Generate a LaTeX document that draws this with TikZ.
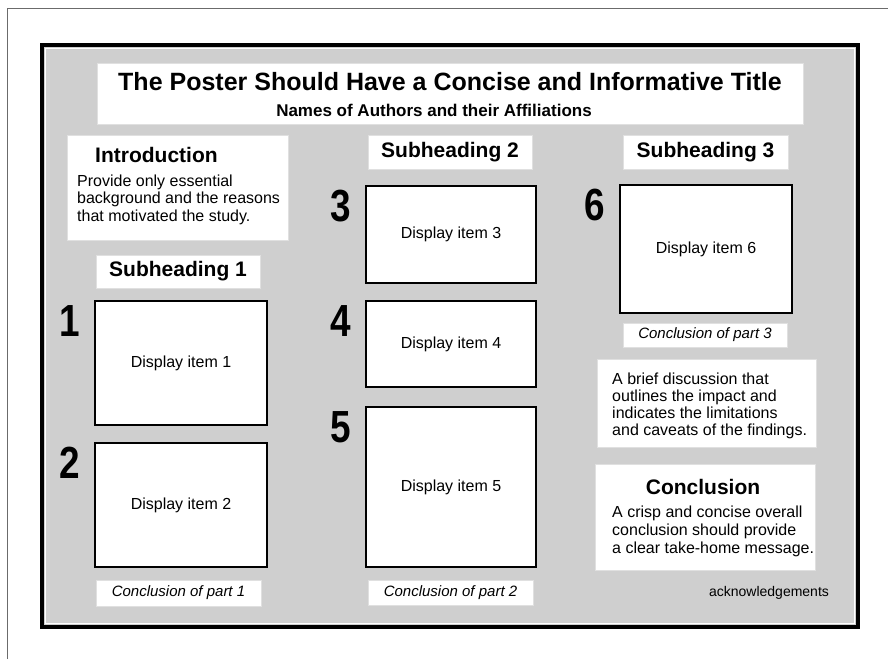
\documentclass[tikz,border=0pt]{standalone}
\usepackage{fontspec}
\usepackage{graphicx}
\setmainfont{Liberation Sans}
\usetikzlibrary{positioning}

\definecolor{posterg}{rgb}{0.81,0.81,0.81}
\definecolor{sheetg}{rgb}{0.42,0.42,0.42}

\tikzset{
  panel/.style={fill=white, draw=white!88!black, line width=0.6pt, inner sep=0pt},
  itembox/.style={fill=white, draw=black, line width=2pt, inner sep=0pt, font=\fontsize{16}{18}\selectfont},
  headtxt/.style={inner sep=0pt, font=\fontsize{21}{24}\selectfont\bfseries},
  bodytxt/.style={inner sep=0pt, anchor=west, text height=11.5pt, text depth=3.4pt, font=\fontsize{16}{18}\selectfont},
  concltxt/.style={font=\fontsize{15}{17}\selectfont\itshape},
  itemnum/.style={inner sep=0pt, font=\fontsize{45}{45}\selectfont\bfseries}
}

\begin{document}
\begin{tikzpicture}[x=1pt,y=-1pt]
\useasboundingbox (0,0) rectangle (888,659);

% sheet and poster
\draw[sheetg, line width=1pt] (7,659) -- (7,8) -- (888,8);
\draw[line width=3.5pt, fill=posterg] (42,45) rectangle (858,627);
\draw[white, line width=1.2pt] (45.5,48.5) rectangle (854.5,623.5);

% title
\node[panel, minimum width=706pt, minimum height=61pt] (titlebox) at (450,93.5) {};
\node[inner sep=0pt, font=\fontsize{25}{28}\selectfont\bfseries] (title) at (450,82) {The Poster Should Have a Concise and Informative Title};
\node[inner sep=0pt, font=\fontsize{17}{20}\selectfont\bfseries] (authors) at (434,110) {Names of Authors and their Affiliations};

% left column
\node[panel, minimum width=221pt, minimum height=105pt] (intro) at (177.5,187.5) {};
\node[headtxt, anchor=west] (introhead) at (95,155) {Introduction};
\foreach \t [count=\i] in {Provide only essential,background and the reasons,that motivated the study.}
  \node[bodytxt] (intro\i) at (77,164.5+17.5*\i) {\t};

\node[panel, headtxt, minimum width=164pt, minimum height=33pt] (sub1) at (178,271.5) {Subheading 1};
\node[itembox, minimum width=172pt, minimum height=124pt] (item1) at (181,363) {Display item 1};
\node[itembox, minimum width=172pt, minimum height=124pt] (item2) at (181,505) {Display item 2};
\node[panel, concltxt, minimum width=165pt, minimum height=26pt] (concl1) at (178.5,593) {Conclusion of part 1};

% middle column
\node[panel, headtxt, minimum width=164pt, minimum height=34pt] (sub2) at (450,152) {Subheading 2};
\node[itembox, minimum width=170pt, minimum height=97pt] (item3) at (451,234.5) {Display item 3};
\node[itembox, minimum width=170pt, minimum height=86pt] (item4) at (451,344) {Display item 4};
\node[itembox, minimum width=170pt, minimum height=160pt] (item5) at (451,487) {Display item 5};
\node[panel, concltxt, minimum width=165pt, minimum height=25pt] (concl2) at (450.5,592.5) {Conclusion of part 2};

% right column
\node[panel, headtxt, minimum width=165pt, minimum height=34pt] (sub3) at (705.5,152) {Subheading 3};
\node[itembox, minimum width=172pt, minimum height=128pt] (item6) at (706,249) {Display item 6};
\node[panel, concltxt, minimum width=164pt, minimum height=24pt] (concl3) at (705,335) {Conclusion of part 3};

\node[panel, minimum width=219pt, minimum height=88pt] (discuss) at (706.5,403) {};
\foreach \t [count=\i] in {A brief discussion that,outlines the impact and,indicates the limitations,and caveats of the findings.}
  \node[bodytxt] (discuss\i) at (612,362.7+17.3*\i) {\t};

\node[panel, minimum width=220pt, minimum height=106pt] (concl) at (705,517) {};
\node[headtxt] (conclhead) at (703,487) {Conclusion};
\foreach \t [count=\i] in {A crisp and concise overall,conclusion should provide,a clear take-home message.}
  \node[bodytxt] (concl\i) at (612,495+18*\i) {\t};

\node[inner sep=0pt, font=\fontsize{14}{16}\selectfont] (ack) at (769,593) {acknowledgements};

% item numbers
\foreach \n in {1,...,6}
  \node[itemnum, below left=5pt and 14pt of item\n.north west] (num\n) {\scalebox{0.82}[1]{\n}};

\end{tikzpicture}
\end{document}
